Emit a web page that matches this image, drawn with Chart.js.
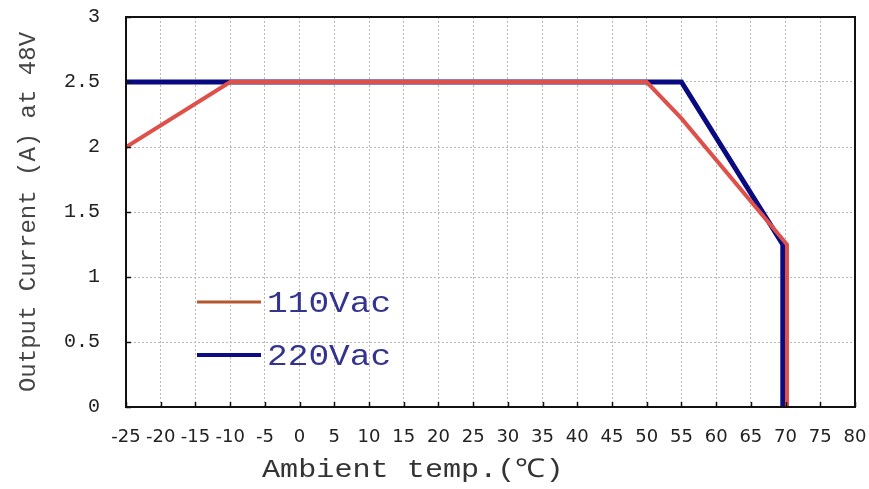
<!DOCTYPE html>
<html>
<head>
<meta charset="utf-8">
<script src="https://cdn.jsdelivr.net/npm/chart.js@4"></script>
<style>
  body { margin: 0; background: #fff; }
  #wrap { width: 869px; height: 489px; }
</style>
</head>
<body>
<div id="wrap"><canvas id="chart"></canvas></div>
<script>
'use strict';

// data
let seriesNames = ['110Vac', '220Vac'];
let temp110 = [-25, -10, 50, 55, 70.2, 70.2];
let amps110 = [2.0, 2.5, 2.5, 2.22, 1.25, 0];
let temp220 = [-25, -10, 55, 69.6, 69.6];
let amps220 = [2.5, 2.5, 2.5, 1.25, 0];

let xTitle = 'Ambient temp.(℃)';
let yTitle = 'Output Current (A) at 48V';

function toPoints(xs, ys) {
  let pts = [];
  for (let i = 0; i < xs.length; i++) {
    pts.push({ x: xs[i], y: ys[i] });
  }
  return pts;
}

// stretched text, the original picture is a bit wider than tall
function wideText(ctx, text, x, y, sx) {
  ctx.save();
  ctx.translate(x, y);
  ctx.scale(sx, 1);
  ctx.fillText(text, 0, 0);
  ctx.restore();
}

// frame, inside tick marks, x title and the legend on the plot
let framePlugin = {
  id: 'frame',
  afterDraw(chart) {
    let ctx = chart.ctx;
    let a = chart.chartArea;
    let xs = chart.scales.x;
    let ys = chart.scales.y;
    ctx.save();
    ctx.strokeStyle = '#111';
    ctx.lineWidth = 2;
    ctx.strokeRect(a.left, a.top, a.right - a.left, a.bottom - a.top);
    ctx.lineWidth = 1.5;
    ctx.beginPath();
    xs.ticks.forEach(t => {
      let px = Math.round(xs.getPixelForValue(t.value)) + 0.5;
      ctx.moveTo(px, a.bottom);
      ctx.lineTo(px, a.bottom - 5);
    });
    ys.ticks.forEach(t => {
      let py = Math.round(ys.getPixelForValue(t.value)) + 0.5;
      ctx.moveTo(a.left, py);
      ctx.lineTo(a.left + 5, py);
    });
    ctx.stroke();

    // x axis title
    ctx.fillStyle = '#333';
    ctx.font = '26px "Liberation Mono"';
    ctx.textBaseline = 'middle';
    wideText(ctx, xTitle, 262, 470, 1.16);

    // legend
    let legendColors = ['#b5562e', '#0c0c85'];
    let lx = a.left + 71;
    let rows = [302, 355];
    ctx.font = '30px "Liberation Mono"';
    for (let i = 0; i < seriesNames.length; i++) {
      ctx.strokeStyle = legendColors[i];
      ctx.lineWidth = i === 0 ? 3 : 4;
      ctx.beginPath();
      ctx.moveTo(lx, rows[i]);
      ctx.lineTo(lx + 64, rows[i]);
      ctx.stroke();
      ctx.fillStyle = '#34348f';
      wideText(ctx, seriesNames[i], lx + 70, rows[i] + 2, 1.15);
    }
    ctx.restore();
  }
};

let canvasElem = document.getElementById('chart');

let chartObj = {
  type: 'scatter',
  data: {
    datasets: [{
      label: seriesNames[0],
      data: toPoints(temp110, amps110),
      showLine: true,
      borderColor: '#de5049',
      borderWidth: 4,
      pointRadius: 0,
      tension: 0
    },
    {
      label: seriesNames[1],
      data: toPoints(temp220, amps220),
      showLine: true,
      borderColor: '#0a0a80',
      borderWidth: 5,
      pointRadius: 0,
      tension: 0
    }]
  },
  options: {
    responsive: true,
    maintainAspectRatio: false,
    animation: false,
    layout: { padding: { top: 17, right: 14, left: 0, bottom: 0 } },
    plugins: {
      legend: { display: false },
      tooltip: { enabled: false }
    },
    scales: {
      x: {
        type: 'linear',
        min: -25,
        max: 80,
        afterFit(scale) {
          scale.height = 82;
          scale.paddingLeft = 0;
          scale.paddingRight = 0;
        },
        ticks: {
          stepSize: 5,
          autoSkip: false,
          maxRotation: 0,
          padding: 20,
          color: '#222',
          font: { family: 'DejaVu Sans', size: 18 }
        },
        grid: { color: '#b8b8b8', lineWidth: 1, drawTicks: false },
        border: { display: false, dash: [2, 2] },
        title: { display: false, text: xTitle }
      },
      y: {
        min: 0,
        max: 3,
        afterFit(scale) {
          scale.width = 126;
          scale.paddingTop = 0;
          scale.paddingBottom = 0;
        },
        ticks: {
          stepSize: 0.5,
          padding: 26,
          color: '#222',
          font: { family: 'Liberation Mono', size: 20 },
          callback: (v) => String(v)
        },
        grid: { color: '#b8b8b8', lineWidth: 1, drawTicks: false },
        border: { display: false, dash: [2, 2] },
        title: {
          display: true,
          text: yTitle,
          color: '#444',
          font: { family: 'Liberation Mono', size: 24 },
          padding: { top: 14, bottom: 0 }
        }
      }
    }
  },
  plugins: [framePlugin]
};

new Chart(canvasElem, chartObj);
</script>
</body>
</html>
